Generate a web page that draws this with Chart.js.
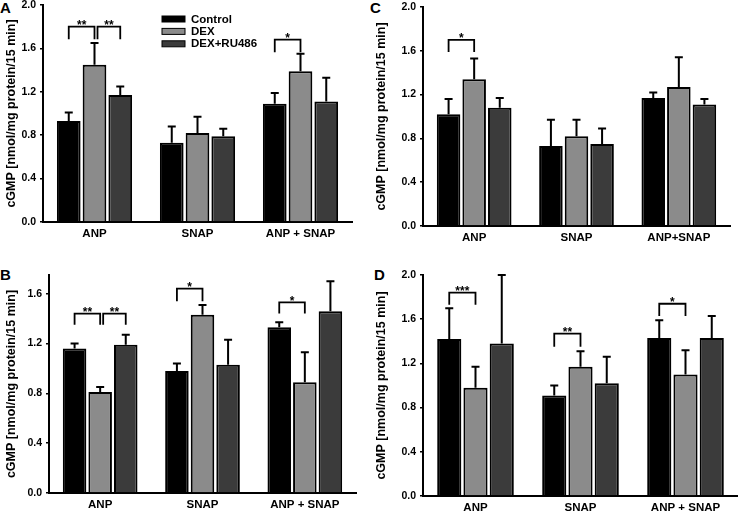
<!DOCTYPE html>
<html><head><meta charset="utf-8">
<script src="https://cdn.jsdelivr.net/npm/chart.js@4"></script>
<style>
html,body{margin:0;padding:0;background:#fff;width:738px;height:513px;overflow:hidden;position:relative}
canvas{position:absolute}
.lbl{position:absolute;font:bold 15px "Liberation Sans",Arial,sans-serif;color:#000;line-height:1}
</style></head><body>
<div class="lbl" style="left:0px;top:0px">A</div>
<div class="lbl" style="left:0px;top:267px">B</div>
<div class="lbl" style="left:370px;top:0px">C</div>
<div class="lbl" style="left:374px;top:267px">D</div>
<canvas id="cA"></canvas>
<canvas id="cB"></canvas>
<canvas id="cC"></canvas>
<canvas id="cD"></canvas>
<script>
// ---------- data ----------
const categoriesABD = ['ANP', 'SNAP', 'ANP + SNAP'];
const categoriesC = ['ANP', 'SNAP', 'ANP+SNAP'];
const seriesNames = ['Control', 'DEX', 'DEX+RU486'];
const yTitle = 'cGMP [nmol/mg protein/15 min]';
const yTicks20 = [0, 0.4, 0.8, 1.2, 1.6, 2.0];
const yTicksB = [0, 0.4, 0.8, 1.2, 1.6];

// Panel A
const A_control = [0.93, 0.73, 1.09];
const A_controlSD = [0.08, 0.15, 0.10];
const A_dex = [1.45, 0.82, 1.39];
const A_dexSD = [0.20, 0.15, 0.16];
const A_ru = [1.17, 0.79, 1.11];
const A_ruSD = [0.08, 0.07, 0.22];
// Panel B
const B_control = [1.16, 0.98, 1.33];
const B_controlSD = [0.04, 0.06, 0.04];
const B_dex = [0.81, 1.43, 0.89];
const B_dexSD = [0.04, 0.08, 0.24];
const B_ru = [1.19, 1.03, 1.46];
const B_ruSD = [0.08, 0.20, 0.24];
// Panel C
const C_control = [1.02, 0.73, 1.17];
const C_controlSD = [0.14, 0.24, 0.05];
const C_dex = [1.34, 0.82, 1.27];
const C_dexSD = [0.19, 0.15, 0.27];
const C_ru = [1.08, 0.75, 1.11];
const C_ruSD = [0.09, 0.14, 0.05];
// Panel D
const D_control = [1.42, 0.91, 1.43];
const D_controlSD = [0.28, 0.09, 0.16];
const D_dex = [0.98, 1.17, 1.10];
const D_dexSD = [0.19, 0.14, 0.22];
const D_ru = [1.38, 1.02, 1.43];
const D_ruSD = [0.62, 0.24, 0.20];

// significance brackets: category, from series, to series, bracket level, leg end level, label
const A_sig = [[0, 0, 1, 1.80, 1.685, '**'], [0, 1, 2, 1.80, 1.685, '**'], [2, 0, 1, 1.68, 1.565, '*']];
const B_sig = [[0, 0, 1, 1.44, 1.35, '**'], [0, 1, 2, 1.44, 1.35, '**'], [1, 0, 1, 1.64, 1.54, '*'], [2, 0, 1, 1.53, 1.44, '*']];
const C_sig = [[0, 0, 1, 1.70, 1.59, '*']];
const D_sig = [[0, 0, 1, 1.84, 1.73, '***'], [1, 0, 1, 1.47, 1.35, '**'], [2, 0, 1, 1.74, 1.63, '*']];

// ---------- styling ----------
const FONT = '"Liberation Sans", Arial, sans-serif';
const colors = ['#000000', '#8b8b8b', '#3b3b3b'];

const errorBarPlugin = {
  id: 'errbars',
  afterDatasetsDraw(chart) {
    const ctx = chart.ctx, y = chart.scales.y;
    ctx.save();
    ctx.strokeStyle = '#000'; ctx.lineWidth = 2;
    chart.data.datasets.forEach((ds, i) => {
      chart.getDatasetMeta(i).data.forEach((bar, j) => {
        const top = y.getPixelForValue(ds.data[j] + ds.sd[j]);
        ctx.beginPath();
        ctx.moveTo(bar.x, bar.y);
        ctx.lineTo(bar.x, top);
        ctx.moveTo(bar.x - 4, top);
        ctx.lineTo(bar.x + 4, top);
        ctx.stroke();
      });
    });
    ctx.restore();
  }
};

const bracketPlugin = {
  id: 'brackets',
  afterDatasetsDraw(chart, args, opts) {
    const items = opts.items || [];
    const ctx = chart.ctx, y = chart.scales.y;
    ctx.save();
    ctx.strokeStyle = '#000'; ctx.fillStyle = '#000'; ctx.lineWidth = 1.8;
    ctx.font = 'bold 12px ' + FONT;
    ctx.textAlign = 'center'; ctx.textBaseline = 'alphabetic';
    items.forEach(([cat, from, to, top, leg, label], k) => {
      const shared = items.some((o, m) => m !== k && o[0] === cat && o[2] === from);
      let xs = chart.getDatasetMeta(from).data[cat].x + (shared ? 3 : 0);
      let xe = chart.getDatasetMeta(to).data[cat].x;
      const yt = y.getPixelForValue(top), yl = y.getPixelForValue(leg);
      ctx.beginPath();
      ctx.moveTo(xs, yl); ctx.lineTo(xs, yt); ctx.lineTo(xe, yt); ctx.lineTo(xe, yl);
      ctx.stroke();
      ctx.fillText(label, (xs + xe) / 2, yt + 2.5);
    });
    ctx.restore();
  }
};

const boxLegendPlugin = {
  id: 'boxLegend',
  afterDraw(chart, args, opts) {
    if (!opts.show) return;
    const ctx = chart.ctx, a = chart.chartArea;
    ctx.save();
    ctx.font = 'bold 11.5px ' + FONT;
    ctx.textBaseline = 'middle'; ctx.textAlign = 'left';
    chart.data.datasets.forEach((ds, i) => {
      const bx = a.left + 119, by = a.top + 11 + i * 12.4;
      ctx.fillStyle = ds.backgroundColor;
      ctx.fillRect(bx, by, 23, 6);
      ctx.strokeStyle = '#000'; ctx.lineWidth = 1;
      ctx.strokeRect(bx, by, 23, 6);
      ctx.fillStyle = '#000';
      ctx.fillText(ds.label, bx + 29, by + 3.5);
    });
    ctx.restore();
  }
};

function makePanel(id, spec) {
  const cv = document.getElementById(id);
  const padTop = 15, xH = 22, padRight = spec.padRight;
  const cTop = spec.top - padTop;
  const w = Math.round(spec.right - spec.col + padRight);
  const h = Math.round(spec.bottom - cTop + xH);
  cv.width = w; cv.height = h;
  cv.style.left = spec.col + 'px'; cv.style.top = cTop + 'px';
  cv.style.width = w + 'px'; cv.style.height = h + 'px';
  const datasets = spec.series.map((s, i) => ({
    label: seriesNames[i],
    data: s[0], sd: s[1],
    backgroundColor: colors[i],
    borderColor: '#000', borderWidth: 2,
    categoryPercentage: 0.75, barPercentage: 0.92
  }));
  new Chart(cv, {
    type: 'bar',
    data: { labels: spec.labels, datasets },
    options: {
      responsive: false, animation: false, devicePixelRatio: 1,
      layout: { padding: { top: padTop, right: padRight, left: 0, bottom: 0 } },
      plugins: {
        legend: { display: false }, tooltip: { enabled: false },
        brackets: { items: spec.sig },
        boxLegend: { show: !!spec.legend }
      },
      scales: {
        x: {
          offset: true,
          grid: { display: true, drawOnChartArea: false, drawTicks: false },
          border: { display: true, color: '#000', width: 2 },
          ticks: { color: '#000', font: { family: FONT, size: 11.5, weight: 'bold' }, padding: 5, maxRotation: 0, autoSkip: false },
          afterFit: s => { s.height = xH; }
        },
        y: {
          min: 0, max: spec.max,
          afterBuildTicks: s => { s.ticks = spec.ticks.map(v => ({ value: v })); },
          grid: { display: true, drawOnChartArea: false, drawTicks: true, tickLength: 3, color: '#000', lineWidth: 1.5 },
          border: { display: true, color: '#000', width: 2 },
          ticks: { color: '#000', font: { family: FONT, size: 10.5, weight: 'bold' }, padding: 4, callback: v => Number(v).toFixed(1) },
          title: { display: true, text: yTitle, color: '#000', font: { family: FONT, size: 12.5, weight: 'bold' }, padding: { top: 4, bottom: 0 } },
          afterFit: s => { s.width = spec.left - spec.col; }
        }
      }
    },
    plugins: [errorBarPlugin, bracketPlugin, boxLegendPlugin]
  });
}

makePanel('cA', { col: 0, left: 43, top: 5, right: 352, bottom: 222, padRight: 5, max: 2.0, ticks: yTicks20, labels: categoriesABD,
  series: [[A_control, A_controlSD], [A_dex, A_dexSD], [A_ru, A_ruSD]], sig: A_sig, legend: true });
makePanel('cB', { col: 0, left: 49, top: 275, right: 356, bottom: 493, padRight: 5, max: 1.75, ticks: yTicksB, labels: categoriesABD,
  series: [[B_control, B_controlSD], [B_dex, B_dexSD], [B_ru, B_ruSD]], sig: B_sig });
makePanel('cC', { col: 370, left: 423, top: 7, right: 730, bottom: 226, padRight: 5, max: 2.0, ticks: yTicks20, labels: categoriesC,
  series: [[C_control, C_controlSD], [C_dex, C_dexSD], [C_ru, C_ruSD]], sig: C_sig });
makePanel('cD', { col: 370, left: 423, top: 275, right: 738, bottom: 496, padRight: 0, max: 2.0, ticks: yTicks20, labels: categoriesABD,
  series: [[D_control, D_controlSD], [D_dex, D_dexSD], [D_ru, D_ruSD]], sig: D_sig });
</script>
</body></html>
